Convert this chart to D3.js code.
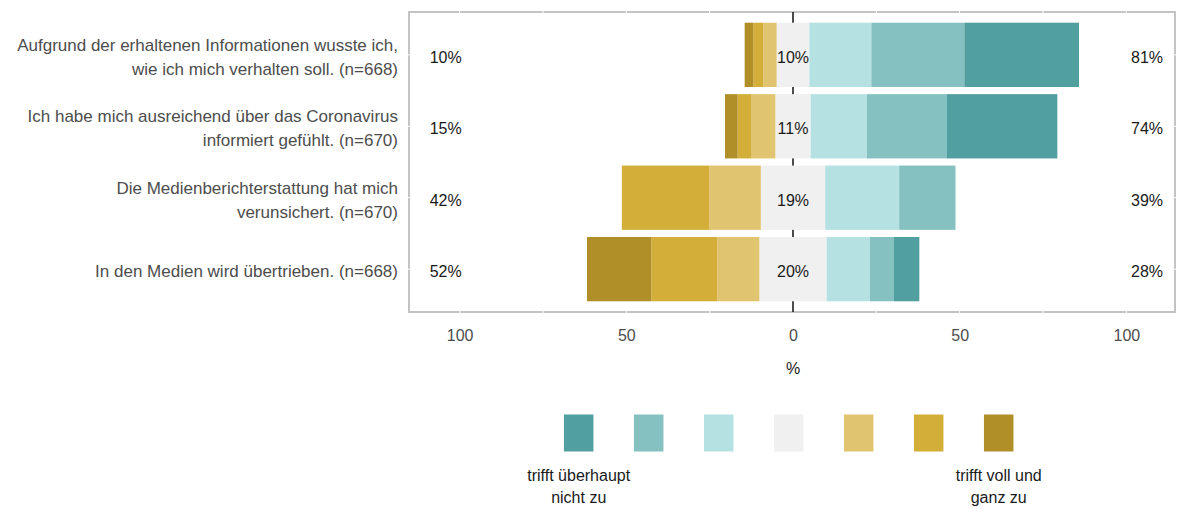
<!DOCTYPE html>
<html>
<head>
<meta charset="utf-8">
<script src="https://cdn.jsdelivr.net/npm/d3@7"></script>
<style>
  body { margin: 0; background: #fff; }
  text { font-family: "Liberation Sans", Arial, sans-serif; }
</style>
</head>
<body>
<svg id="chart" width="1177" height="509"></svg>
<script>
// statements (rows, top to bottom), split in lines as in the picture
const items = [
    ["Aufgrund der erhaltenen Informationen wusste ich,", "wie ich mich verhalten soll. (n=668)"],
    ["Ich habe mich ausreichend über das Coronavirus", "informiert gefühlt. (n=670)"],
    ["Die Medienberichterstattung hat mich", "verunsichert. (n=670)"],
    ["In den Medien wird übertrieben. (n=668)"]
];

// answer levels 1..7
const levels = ["trifft überhaupt nicht zu", "2", "3", "4", "5", "6", "trifft voll und ganz zu"];
const legendText = [["trifft überhaupt", "nicht zu"], [], [], [], [], [], ["trifft voll und", "ganz zu"]];
const colours = ["#519f9f", "#85c1c1", "#b6e1e2", "#f0f0f0", "#e1c470", "#d3ae38", "#b08f28"];

// percentages per level (level 1 .. level 7) for each statement
const aufgrund     = [34.4, 27.9, 18.6, 9.8, 4.0, 3.0, 2.6];
const informiert   = [33.1, 24.0, 16.9, 10.6, 7.3, 4.0, 3.8];
const verunsichert = [0, 16.9, 22.2, 19.3, 15.4, 26.3, 0];
const uebertrieben = [7.6, 7.2, 13.0, 20.2, 12.6, 19.8, 19.3];
const values = [aufgrund, informiert, verunsichert, uebertrieben];

const xTicks = [-100, -50, 0, 50, 100];
const xGrid = [-100, -75, -50, -25, 25, 50, 75, 100];

let svg = d3.select("#chart");
let panel = { left: 409, right: 1175, top: 12, bottom: 312 };

let x = d3.scaleLinear()
    .domain([-115.2, 114.6])
    .range([panel.left, panel.right]);

let y = d3.scaleBand()
    .domain(d3.range(items.length))
    .range([panel.top, panel.bottom])
    .paddingInner(0.1)
    .paddingOuter(0.15);

// panel border
svg.append("rect")
    .attr("x", panel.left)
    .attr("y", panel.top)
    .attr("width", panel.right - panel.left)
    .attr("height", panel.bottom - panel.top)
    .attr("fill", "none")
    .attr("stroke", "#c3c3c3")
    .attr("stroke-width", 2);

// white grid lines cutting through the border
svg.selectAll(".gridx")
    .data(xGrid)
    .enter().append("line")
    .attr("x1", d => x(d)).attr("x2", d => x(d))
    .attr("y1", panel.top - 2).attr("y2", panel.bottom + 2)
    .attr("stroke", "#fff").attr("stroke-width", 1);

svg.selectAll(".gridy")
    .data(d3.range(items.length))
    .enter().append("line")
    .attr("x1", panel.left - 2).attr("x2", panel.right + 2)
    .attr("y1", d => y(d) + y.bandwidth() / 2)
    .attr("y2", d => y(d) + y.bandwidth() / 2)
    .attr("stroke", "#fff").attr("stroke-width", 1);

// zero line (mostly hidden by bars)
svg.append("line")
    .attr("x1", x(0)).attr("x2", x(0))
    .attr("y1", panel.top).attr("y2", panel.bottom)
    .attr("stroke", "#111").attr("stroke-width", 1.5);

// build segments: neutral centred on 0, teal levels to the right, gold to the left
let segments = [];
values.forEach(function(v, row) {
    let half = v[3] / 2;
    segments.push({ row: row, level: 3, x0: -half, x1: half });
    let pos = half;
    [2, 1, 0].forEach(function(l) {
        segments.push({ row: row, level: l, x0: pos, x1: pos + v[l] });
        pos += v[l];
    });
    let neg = -half;
    [4, 5, 6].forEach(function(l) {
        segments.push({ row: row, level: l, x0: neg - v[l], x1: neg });
        neg -= v[l];
    });
});

svg.selectAll(".seg")
    .data(segments.filter(d => d.x1 - d.x0 > 0))
    .enter().append("rect")
    .attr("class", "seg")
    .attr("x", d => x(d.x0))
    .attr("width", d => x(d.x1) - x(d.x0))
    .attr("y", d => y(d.row))
    .attr("height", y.bandwidth())
    .attr("fill", d => colours[d.level]);

// percentage labels
let fmt = v => Math.round(v) + "%";
values.forEach(function(v, row) {
    let cy = y(row) + y.bandwidth() / 2 + 8;
    let left = v[4] + v[5] + v[6];
    let right = v[0] + v[1] + v[2];
    [[-104.2, left], [0, v[3]], [106.2, right]].forEach(function(p) {
        svg.append("text")
            .attr("x", x(p[0]))
            .attr("y", cy)
            .attr("text-anchor", "middle")
            .attr("font-size", 16)
            .attr("fill", "#1a1a1a")
            .text(fmt(p[1]));
    });
});

// statement labels
items.forEach(function(lines, row) {
    let cy = y(row) + y.bandwidth() / 2 + 8;
    let first = cy - (lines.length - 1) * 12;
    let t = svg.append("text")
        .attr("text-anchor", "end")
        .attr("font-size", 17)
        .attr("fill", "#4d4d4d");
    lines.forEach(function(l, i) {
        t.append("tspan")
            .attr("x", 398)
            .attr("y", first + i * 24)
            .text(l);
    });
});

// x axis
let axis = svg.append("g")
    .attr("transform", "translate(0," + panel.bottom + ")")
    .call(d3.axisBottom(x).tickValues(xTicks).tickSize(0).tickPadding(17.5).tickFormat(d => Math.abs(d)));
axis.select(".domain").remove();
axis.selectAll("text")
    .attr("font-family", "Liberation Sans, Arial, sans-serif")
    .attr("font-size", 16)
    .attr("fill", "#4d4d4d");

svg.append("text")
    .attr("x", x(0))
    .attr("y", 374)
    .attr("text-anchor", "middle")
    .attr("font-size", 16)
    .attr("fill", "#1a1a1a")
    .text("%");

// legend
let lx = d3.scaleLinear().domain([0, levels.length - 1]).range([578.7, 998.7]);
let legend = svg.selectAll(".key")
    .data(levels)
    .enter().append("g")
    .attr("class", "key")
    .attr("transform", (d, i) => "translate(" + lx(i) + ",0)");

legend.append("rect")
    .attr("x", -14.75)
    .attr("y", 414.5)
    .attr("width", 29.5)
    .attr("height", 37)
    .attr("fill", (d, i) => colours[i]);

legend.each(function(d, i) {
    let t = d3.select(this).append("text")
        .attr("text-anchor", "middle")
        .attr("font-size", 16)
        .attr("fill", "#1a1a1a");
    legendText[i].forEach(function(l, j) {
        t.append("tspan").attr("x", 0).attr("y", 481 + j * 22).text(l);
    });
});
</script>
</body>
</html>
